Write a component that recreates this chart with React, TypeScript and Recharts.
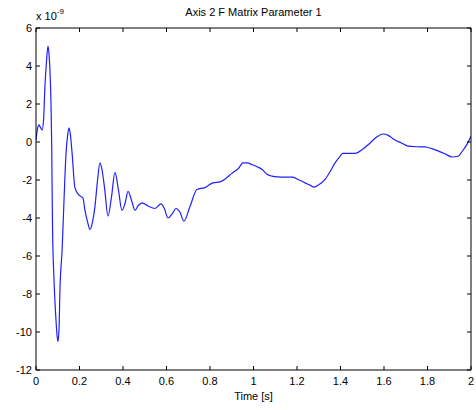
import React from 'react';
import { LineChart, Line, XAxis, YAxis } from 'recharts';

// time in seconds, value in units of 1e-9
const times = [
  0, 0.007, 0.014, 0.021, 0.028, 0.035, 0.041, 0.048, 0.055, 0.06, 0.064, 0.069, 0.072, 0.076,
  0.083, 0.09, 0.097, 0.101, 0.106, 0.11, 0.12, 0.129, 0.138, 0.146, 0.152, 0.159, 0.166, 0.179,
  0.198, 0.216, 0.225, 0.237, 0.248, 0.26, 0.271, 0.283, 0.294, 0.304, 0.315, 0.331, 0.347,
  0.363, 0.38, 0.395, 0.41, 0.423, 0.44, 0.455, 0.47, 0.487, 0.515, 0.547, 0.575, 0.59, 0.607,
  0.625, 0.644, 0.662, 0.68, 0.708, 0.74, 0.777, 0.814, 0.846, 0.875, 0.9, 0.93, 0.952, 0.97,
  0.995, 1.016, 1.04, 1.062, 1.085, 1.108, 1.15, 1.18, 1.21, 1.237, 1.26, 1.278, 1.3, 1.33,
  1.355, 1.375, 1.395, 1.41, 1.44, 1.467, 1.503, 1.536, 1.565, 1.595, 1.62, 1.65, 1.68, 1.706,
  1.75, 1.788, 1.82, 1.848, 1.88, 1.913, 1.94, 1.959, 1.98, 2,
];
const values = [
  0.1, 0.7, 0.9, 0.75, 0.63, 1.2, 2.9, 4.2, 5.05, 4.6, 3.8, 2.0, 0.0, -4.5,
  -7.3, -9.0, -10.2, -10.5, -9.8, -7.8, -5.7, -3.0, -0.6, 0.4, 0.74, 0.3, -0.6, -2.4,
  -2.8, -2.95, -3.6, -4.2, -4.6, -4.2, -3.4, -2.0, -1.1, -1.5, -2.4, -3.9, -2.9,
  -1.6, -2.6, -3.6, -3.2, -2.6, -3.1, -3.6, -3.35, -3.2, -3.37, -3.5, -3.26, -3.5, -4.0,
  -3.8, -3.5, -3.7, -4.16, -3.4, -2.5, -2.4, -2.15, -2.1, -1.9, -1.65, -1.4, -1.1, -1.1,
  -1.2, -1.3, -1.45, -1.7, -1.8, -1.84, -1.85, -1.85, -2.0, -2.15, -2.27, -2.37, -2.25, -1.95,
  -1.5, -1.1, -0.8, -0.6, -0.6, -0.6, -0.37, -0.05, 0.25, 0.42, 0.35, 0.1, -0.05, -0.2,
  -0.25, -0.26, -0.35, -0.47, -0.62, -0.79, -0.75, -0.5, -0.15, 0.3,
];

const xTicks = [0, 0.2, 0.4, 0.6, 0.8, 1, 1.2, 1.4, 1.6, 1.8, 2];
const yTicks = [-12, -10, -8, -6, -4, -2, 0, 2, 4, 6];

const data = times.map((t, i) => ({ t, v: values[i] }));

const FONT = 'Arial, "Liberation Sans", Helvetica, sans-serif';
const TICK_LEN = 4;

const fmtX = (v: number) => String(Number(v.toFixed(1)));

const BottomTick = (props: any) => {
  const { x, y, payload } = props;
  return (
    <g>
      <line x1={x} y1={y} x2={x} y2={y - TICK_LEN} stroke="#000" strokeWidth={1} />
      <text x={x} y={y + 15} textAnchor="middle" fontSize={11} fontFamily={FONT} fill="#000">
        {fmtX(payload.value)}
      </text>
    </g>
  );
};

const TopTick = (props: any) => {
  const { x, y } = props;
  return <line x1={x} y1={y} x2={x} y2={y + TICK_LEN} stroke="#000" strokeWidth={1} />;
};

const LeftTick = (props: any) => {
  const { x, y, payload } = props;
  return (
    <g>
      <line x1={x} y1={y} x2={x + TICK_LEN} y2={y} stroke="#000" strokeWidth={1} />
      <text x={x - 4} y={y + 4} textAnchor="end" fontSize={11} fontFamily={FONT} fill="#000">
        {payload.value}
      </text>
    </g>
  );
};

const RightTick = (props: any) => {
  const { x, y } = props;
  return <line x1={x} y1={y} x2={x - TICK_LEN} y2={y} stroke="#000" strokeWidth={1} />;
};

export default function App() {
  return (
    <div style={{ position: 'relative', width: 476, height: 410, background: '#fff', fontFamily: FONT }}>
      <style>{'body{margin:0;}'}</style>
      <LineChart width={476} height={410} data={data} margin={{ top: 0, right: 0, bottom: 0, left: 0 }}>
        <XAxis
          xAxisId="bottom"
          dataKey="t"
          type="number"
          domain={[0, 2]}
          ticks={xTicks}
          height={40}
          tickSize={0}
          tickMargin={0}
          tickLine={false}
          axisLine={{ stroke: '#000', strokeWidth: 1 }}
          tick={<BottomTick />}
          interval={0}
          allowDataOverflow
        />
        <XAxis
          xAxisId="top"
          orientation="top"
          dataKey="t"
          type="number"
          domain={[0, 2]}
          ticks={xTicks}
          height={28}
          tickSize={0}
          tickMargin={0}
          tickLine={false}
          axisLine={{ stroke: '#000', strokeWidth: 1 }}
          tick={<TopTick />}
          interval={0}
          allowDataOverflow
        />
        <YAxis
          yAxisId="left"
          type="number"
          domain={[-12, 6]}
          ticks={yTicks}
          width={36}
          tickSize={0}
          tickMargin={0}
          tickLine={false}
          axisLine={{ stroke: '#000', strokeWidth: 1 }}
          tick={<LeftTick />}
          interval={0}
          allowDataOverflow
        />
        <YAxis
          yAxisId="right"
          orientation="right"
          type="number"
          domain={[-12, 6]}
          ticks={yTicks}
          width={5}
          tickSize={0}
          tickMargin={0}
          tickLine={false}
          axisLine={{ stroke: '#000', strokeWidth: 1 }}
          tick={<RightTick />}
          interval={0}
          allowDataOverflow
        />
        <Line
          xAxisId="bottom"
          yAxisId="left"
          type="monotone"
          dataKey="v"
          stroke="#1f1fff"
          strokeWidth={1.2}
          dot={false}
          isAnimationActive={false}
        />
      </LineChart>
      <div style={{ position: 'absolute', left: 0, top: 6, width: 507, textAlign: 'center', fontSize: 11, lineHeight: '13px' }}>
        Axis 2 F Matrix Parameter 1
      </div>
      <div style={{ position: 'absolute', left: 36, top: 10, fontSize: 11, lineHeight: '13px' }}>
        x 10<sup style={{ fontSize: 8, verticalAlign: 'top', position: 'relative', top: -5 }}>-9</sup>
      </div>
      <div style={{ position: 'absolute', left: 0, top: 390, width: 507, textAlign: 'center', fontSize: 11, lineHeight: '13px' }}>
        Time [s]
      </div>
    </div>
  );
}
